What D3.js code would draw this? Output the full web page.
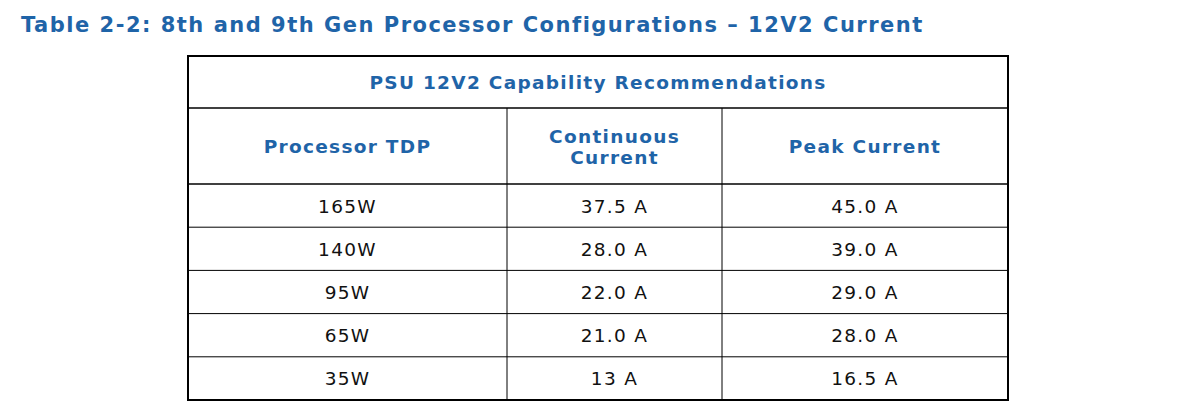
<!DOCTYPE html>
<meta charset="utf-8">
<head>
<script src="https://cdn.jsdelivr.net/npm/d3@7"></script>
<style>
  body { margin: 0; background: #fff; }
  text { font-family: "DejaVu Sans", Verdana, sans-serif; }
</style>
</head>
<body>
<script>
var title = "Table 2-2: 8th and 9th Gen Processor Configurations \u2013 12V2 Current";
var groupHeader = "PSU 12V2 Capability Recommendations";
var columns = [["Processor TDP"], ["Continuous", "Current"], ["Peak Current"]];
var tdp = ["165W", "140W", "95W", "65W", "35W"];
var continuous = ["37.5 A", "28.0 A", "22.0 A", "21.0 A", "13 A"];
var peak = ["45.0 A", "39.0 A", "29.0 A", "28.0 A", "16.5 A"];

var w = 1200, h = 416;
var blue = "#1f64a8";
var svg = d3.select("body").append("svg").attr("width", w).attr("height", h);

svg.append("text").attr("x", 21).attr("y", 32)
   .style("font-size", "21px").style("font-weight", "bold").style("letter-spacing", "1.5px")
   .attr("fill", blue).text(title);

// column edges and row edges
var colEdges = [188, 507, 722, 1008];
var y = d3.scaleBand().domain(d3.range(tdp.length)).range([184, 400]);
var tableTop = 56, hdr1 = 108, hdr2 = 184;

function cell(x, yy, t, bold, col) {
  return g.append("text").attr("x", x).attr("y", yy).attr("text-anchor", "middle")
    .style("font-size", "18.5px").style("letter-spacing", "1.3px")
    .style("font-weight", bold ? "bold" : "normal").attr("fill", col).text(t);
}

var g = svg.append("g");
cell((colEdges[0] + colEdges[3]) / 2, (tableTop + hdr1) / 2 + 7, groupHeader, true, blue);

columns.forEach(function(lines, i) {
  var cx = (colEdges[i] + colEdges[i + 1]) / 2;
  var cy = (hdr1 + hdr2) / 2 + 7 - (lines.length - 1) * 10.5;
  lines.forEach(function(t, j) { cell(cx, cy + j * 21, t, true, blue); });
});

var rows = tdp.map(function(d, i) { return [d, continuous[i], peak[i]]; });
rows.forEach(function(r, i) {
  r.forEach(function(t, j) {
    cell((colEdges[j] + colEdges[j + 1]) / 2, y(i) + y.bandwidth() / 2 + 7, t, false, "#111");
  });
  if (i > 0) g.append("line").attr("x1", 188).attr("x2", 1008)
     .attr("y1", y(i)).attr("y2", y(i)).attr("stroke", "#000").attr("stroke-width", 1);
});

[hdr1, hdr2].forEach(function(yy) {
  g.append("line").attr("x1", 188).attr("x2", 1008).attr("y1", yy).attr("y2", yy)
   .attr("stroke", "#000").attr("stroke-width", 1.5);
});
[507, 722].forEach(function(xx) {
  g.append("line").attr("x1", xx).attr("x2", xx).attr("y1", hdr1).attr("y2", 400)
   .attr("stroke", "#000").attr("stroke-width", 1);
});
g.append("rect").attr("x", 188).attr("y", tableTop).attr("width", 820).attr("height", 400 - tableTop)
 .attr("fill", "none").attr("stroke", "#000").attr("stroke-width", 2);
</script>
</body>
</html>
